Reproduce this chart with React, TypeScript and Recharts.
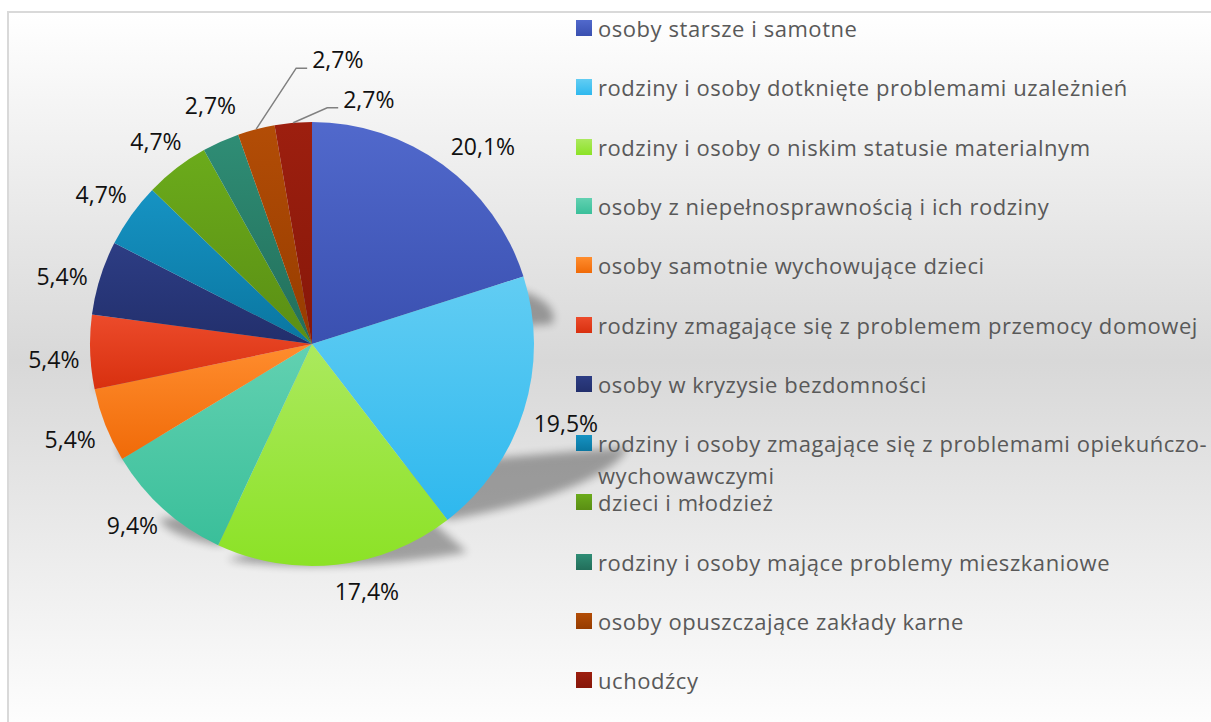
import React from "react";
import { PieChart, Pie, Cell, Legend } from "recharts";

const CATEGORIES = [
  "osoby starsze i samotne",
  "rodziny i osoby dotknięte problemami uzależnień",
  "rodziny i osoby o niskim statusie materialnym",
  "osoby z niepełnosprawnością i ich rodziny",
  "osoby samotnie wychowujące dzieci",
  "rodziny zmagające się z problemem przemocy domowej",
  "osoby w kryzysie bezdomności",
  "rodziny i osoby zmagające się z problemami opiekuńczo-wychowawczymi",
  "dzieci i młodzież",
  "rodziny i osoby mające problemy mieszkaniowe",
  "osoby opuszczające zakłady karne",
  "uchodźcy",
];

const SHARES = [20.1, 19.5, 17.4, 9.4, 5.4, 5.4, 5.4, 4.7, 4.7, 2.7, 2.7, 2.7];

const TOP_COLORS = [
  "#5169cc", "#62cdf3", "#abe95e", "#62d1b1", "#ff8d2e", "#ec4b2b",
  "#2d3d84", "#1693c3", "#6bab1b", "#2f8d75", "#b34d06", "#9d1f0f",
];
const BOTTOM_COLORS = [
  "#3a50b0", "#2eb8ee", "#8ce226", "#3abf9a", "#f06a08", "#d8300f",
  "#222f6c", "#0a76a0", "#5a8e14", "#226e5a", "#963c00", "#861709",
];

// labels that Excel pulled out with a leader line: offset of the elbow from the slice edge
const LEADERS: Record<number, [number, number]> = { 10: [40, -61], 11: [34, -15] };
// small manual nudges where Excel's best-fit put the label off the bisector
const NUDGE: Record<number, [number, number]> = {
  0: [18, 11],
  2: [28, 3],
  3: [-8, -10],
  5: [0, 6],
  6: [-2, 9],
  9: [2, -9],
};

const data = CATEGORIES.map((name, i) => ({ name, value: SHARES[i] }));

const RAD = Math.PI / 180;
const CX = 312;
const CY = 344;
const R = 222;
const LABEL_FONT = "'Open Sans', sans-serif";

const fmt = (v: number) => v.toFixed(1).replace(".", ",") + "%";

// per-slice perspective shadow, squashed toward the slice bottom and leaning right
const shadowCss = `
body { margin: 0; }
.pie-shadow .recharts-sector {
  transform-box: fill-box;
  transform-origin: 50% 100%;
  transform: skewX(-55deg) scaleY(0.3);
}
`;

function renderLabel(props: any) {
  const { cx, cy, midAngle, outerRadius, index, value } = props;
  const text = fmt(value);
  const ux = Math.cos(-midAngle * RAD);
  const uy = Math.sin(-midAngle * RAD);
  const sx = cx + outerRadius * ux;
  const sy = cy + outerRadius * uy;
  const lead = LEADERS[index];
  if (lead) {
    const ex = sx + lead[0];
    const ey = sy + lead[1];
    return (
      <g key={`lbl-${index}`}>
        <polyline
          points={`${sx},${sy} ${ex},${ey} ${ex + 11},${ey}`}
          fill="none"
          stroke="#808080"
          strokeWidth={1.5}
        />
        <text x={ex + 16} y={ey} fill="#111" fontSize={23} fontFamily={LABEL_FONT} textAnchor="start">
          {text}
        </text>
      </g>
    );
  }
  const w = text.length * 13;
  const h = 20;
  const d = outerRadius + 10 + (Math.abs(ux) * w) / 2 + (Math.abs(uy) * h) / 2;
  const [nx, ny] = NUDGE[index] ?? [0, 0];
  return (
    <text
      key={`lbl-${index}`}
      x={cx + d * ux + nx}
      y={cy + d * uy + ny}
      fill="#111"
      fontSize={23}
      fontFamily={LABEL_FONT}
      textAnchor="middle"
      dominantBaseline="central"
    >
      {text}
    </text>
  );
}

function renderLegend() {
  return (
    <div style={{ position: "relative", width: 650, height: 700 }}>
      {CATEGORIES.map((name, i) => (
        <div
          key={name}
          style={{
            position: "absolute",
            left: 0,
            top: i * 59.3,
            display: "flex",
            alignItems: "flex-start",
            width: 650,
          }}
        >
          <div
            style={{
              width: 16,
              height: 16,
              marginTop: 8,
              flex: "none",
              background: `linear-gradient(${TOP_COLORS[i]}, ${BOTTOM_COLORS[i]})`,
            }}
          />
          <div
            style={{
              marginLeft: 6,
              width: 620,
              fontFamily: "'Open Sans', sans-serif",
              fontSize: 22,
              letterSpacing: "0.55px",
              lineHeight: "32px",
              color: "#595959",
            }}
          >
            {name}
          </div>
        </div>
      ))}
    </div>
  );
}

export default function App() {
  return (
    <div style={{ position: "relative", width: 1211, height: 722, overflow: "hidden" }}>
      <style>{shadowCss}</style>
      <div
        style={{
          position: "absolute",
          left: 7,
          top: 11,
          width: 1220,
          height: 730,
          boxSizing: "border-box",
          border: "2px solid #d9d9d9",
          background: "linear-gradient(#ffffff 0%, #d8d8d8 48%, #ffffff 100%)",
        }}
      />
      <div
        className="pie-shadow"
        style={{ position: "absolute", left: 0, top: 0, filter: "blur(4px)", opacity: 0.32 }}
      >
        <PieChart width={1211} height={722} margin={{ top: 0, right: 0, bottom: 0, left: 0 }}>
          <Pie
            data={data}
            dataKey="value"
            cx={CX}
            cy={CY}
            outerRadius={R}
            startAngle={90}
            endAngle={-270}
            fill="#000"
            stroke="none"
            isAnimationActive={false}
          />
        </PieChart>
      </div>
      <div style={{ position: "absolute", left: 0, top: 0 }}>
        <PieChart width={1211} height={722} margin={{ top: 0, right: 0, bottom: 0, left: 0 }}>
          <defs>
            {TOP_COLORS.map((c, i) => (
              <linearGradient key={i} id={`slice${i}`} x1="0" y1="0" x2="0" y2="1">
                <stop offset="0" stopColor={c} />
                <stop offset="1" stopColor={BOTTOM_COLORS[i]} />
              </linearGradient>
            ))}
          </defs>
          <Pie
            data={data}
            dataKey="value"
            nameKey="name"
            cx={CX}
            cy={CY}
            outerRadius={R}
            startAngle={90}
            endAngle={-270}
            stroke="none"
            label={renderLabel}
            labelLine={false}
            isAnimationActive={false}
          >
            {data.map((d, i) => (
              <Cell key={d.name} fill={`url(#slice${i})`} />
            ))}
          </Pie>
          <Legend
            content={renderLegend}
            layout="vertical"
            align="right"
            verticalAlign="middle"
            wrapperStyle={{ position: "absolute", left: 576, top: 12, width: 650, height: 700 }}
          />
        </PieChart>
      </div>
    </div>
  );
}
